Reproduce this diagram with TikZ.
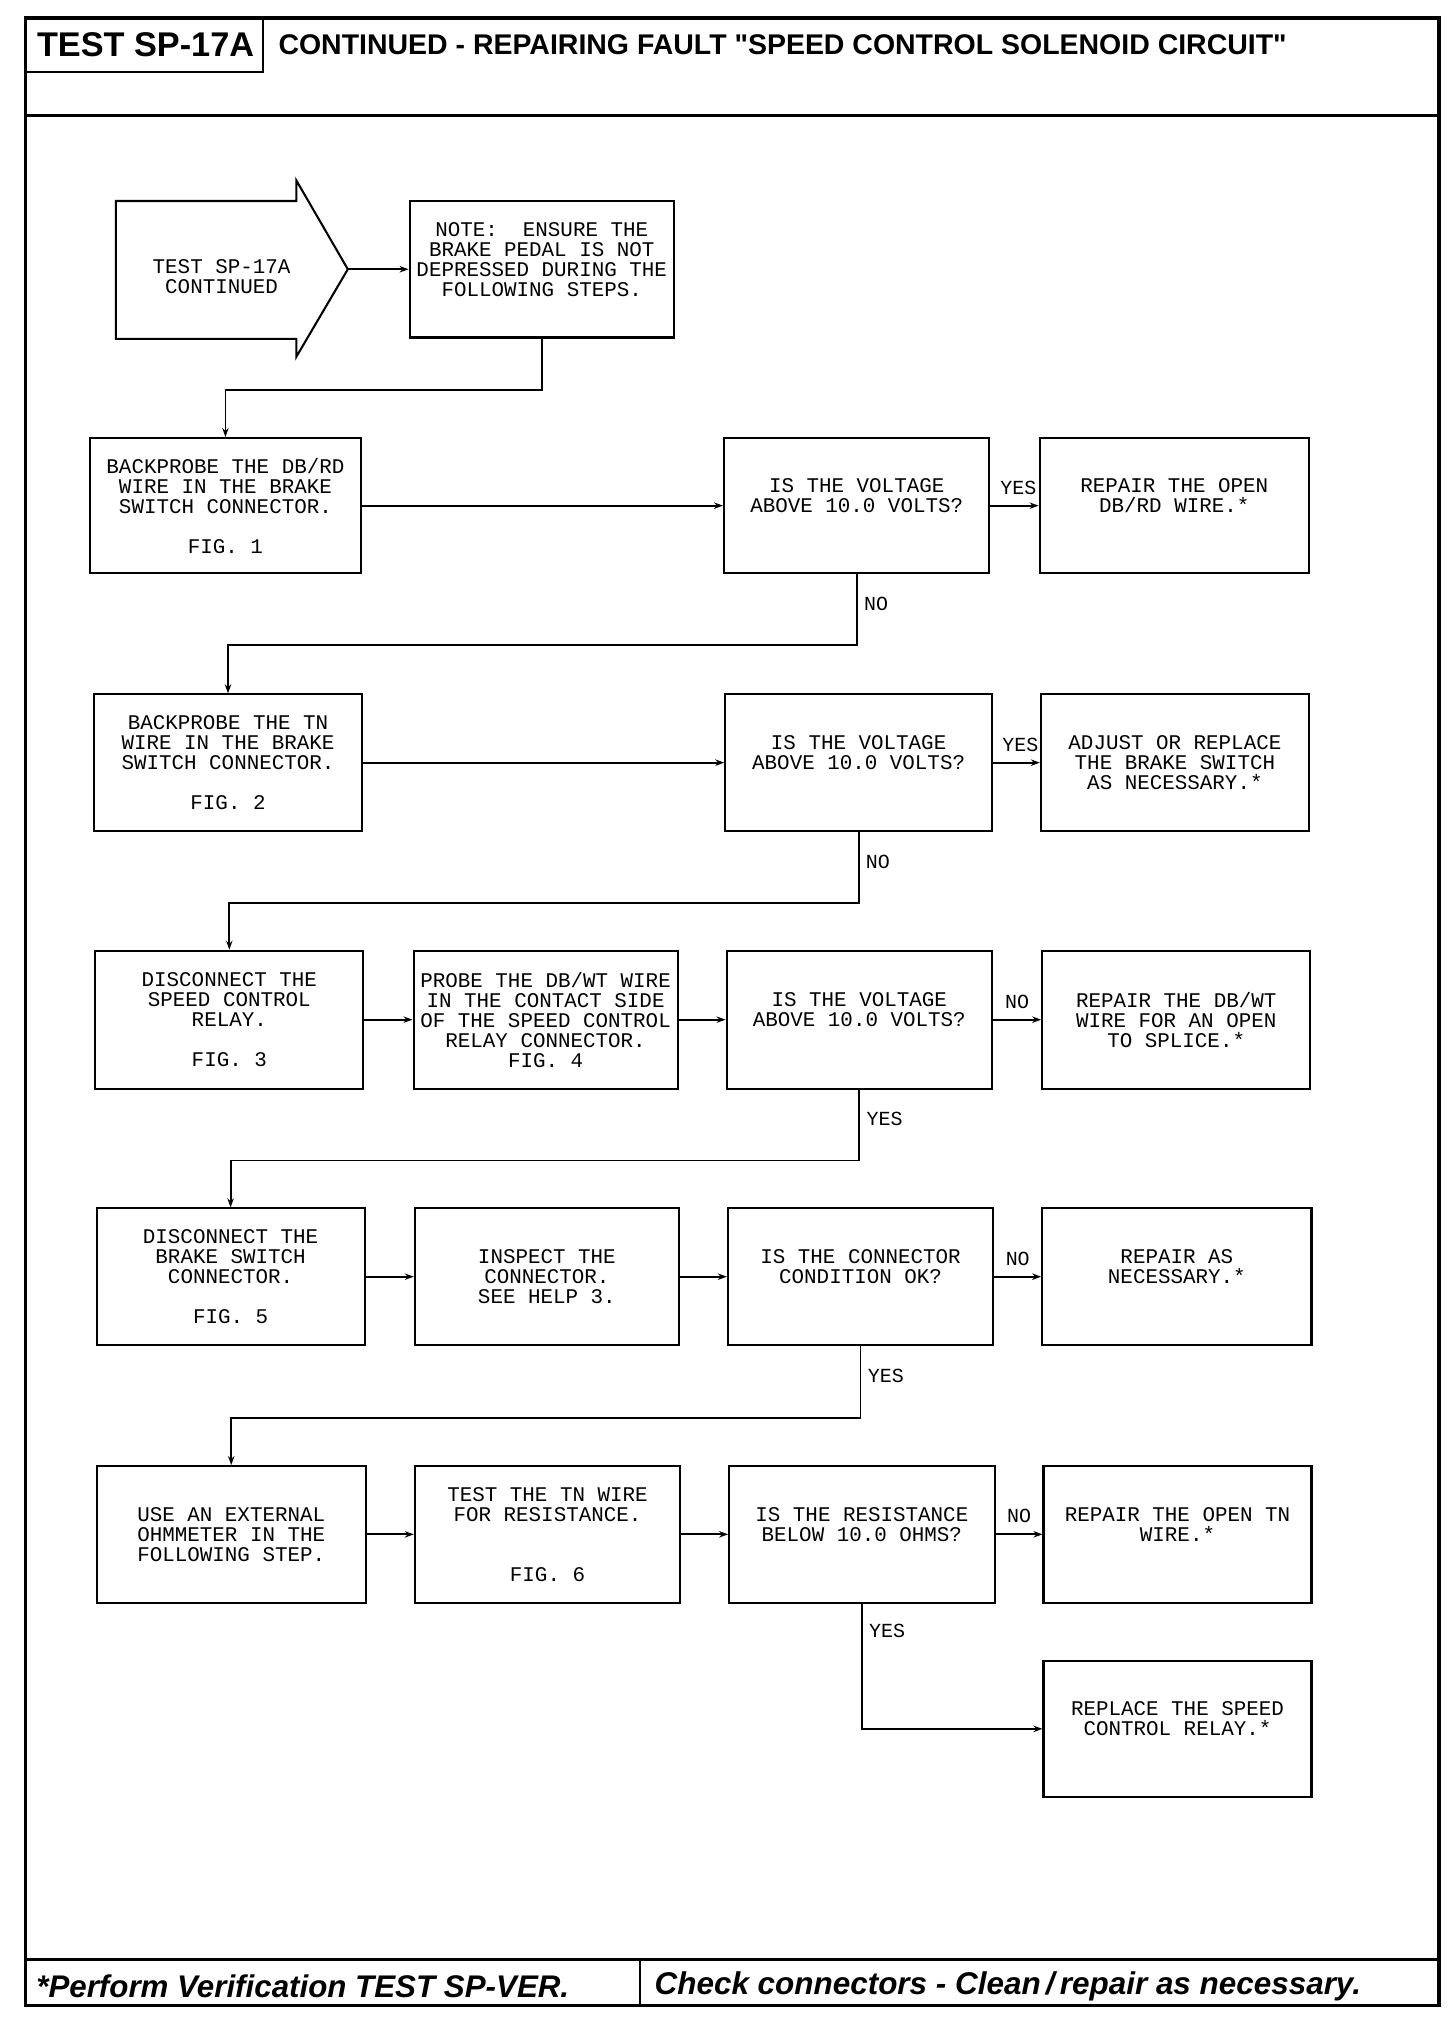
\documentclass[tikz,border=0pt]{standalone}
\usepackage{fontspec}
\setmainfont{Liberation Sans}
\setsansfont{Liberation Sans}
\setmonofont{Liberation Mono}
\newfontfamily\hfont{Liberation Sans}
\usetikzlibrary{arrows.meta,calc}
\tikzset{
  bx/.style={draw, line width=1.6pt, inner sep=0pt, align=center,
    font=\ttfamily\fontsize{16.2}{15.5}\selectfont},
  arr/.style={line width=1.4pt, -{Stealth[length=7pt,width=5pt]}},
  ln/.style={line width=1.4pt},
  lbl/.style={font=\ttfamily\fontsize{15.5}{15}\selectfont, inner sep=2pt},
  frame/.style={line width=2.4pt},
}
\newcommand{\mybox}[6]{\node[bx, minimum width={(#4-#2)*1pt}, minimum height={(#5-#3)*1pt}]
  (#1) at ({(#2+#4)/2},{(#3+#5)/2}) {#6};}
\begin{document}
\begin{tikzpicture}[x=1pt,y=-1pt]
\useasboundingbox (0,0) rectangle (1130,1568);
% frame
\draw[frame] (20,14) rectangle (1117,1557);
\draw[frame] (20,90) -- (1117,90);
\draw[frame] (20,1521) -- (1117,1521);
\draw[line width=1.6pt] (204,14) -- (204,56) -- (20,56);
\draw[line width=1.6pt] (497,1521) -- (497,1557);
\node[font=\sffamily\bfseries\fontsize{26.6}{26.6}\selectfont, inner sep=0pt] (hdr) at (113,35) {TEST SP-17A};
\node[font=\hfont\bfseries\fontsize{22.1}{22.1}\selectfont, anchor=west, inner sep=0pt] (title) at (216,35) {CONTINUED - REPAIRING FAULT "SPEED CONTROL SOLENOID CIRCUIT"};
\node[font=\sffamily\bfseries\itshape\fontsize{24.3}{24.3}\selectfont, anchor=west, inner sep=0pt] (foot1) at (28,1542) {*Perform Verification TEST SP-VER.};
\node[font=\sffamily\bfseries\itshape\fontsize{24.4}{24.4}\selectfont, anchor=west, inner sep=0pt] (foot2) at (508,1542) {Check connectors - Clean\,/\,repair as necessary.};

% start arrow shape
\draw[line width=1.6pt] (90,156) -- (230,156) -- (230,140) -- (270,209) -- (230,277) -- (230,263) -- (90,263) -- cycle;
\node[align=center, inner sep=0pt, font=\ttfamily\fontsize{16.2}{15.5}\selectfont] (start) at (172,215) {TEST SP-17A\\CONTINUED};
\coordinate (tip) at (270,209);

\mybox{note}{318}{156}{523}{262}{NOTE:~ ENSURE THE\\BRAKE PEDAL IS NOT\\DEPRESSED DURING THE\\FOLLOWING STEPS.\\\mbox{}}

% row 1
\mybox{a1}{70}{340}{280}{445}{BACKPROBE THE DB/RD\\WIRE IN THE BRAKE\\SWITCH CONNECTOR.\\\mbox{}\\FIG. 1}
\mybox{q1}{562}{340}{768}{445}{IS THE VOLTAGE\\ABOVE 10.0 VOLTS?\\\mbox{}}
\mybox{r1}{807}{340}{1016}{445}{REPAIR THE OPEN\\DB/RD WIRE.*\\\mbox{}}
% row 2
\mybox{a2}{73}{539}{281}{645}{BACKPROBE THE TN\\WIRE IN THE BRAKE\\SWITCH CONNECTOR.\\\mbox{}\\FIG. 2}
\mybox{q2}{563}{539}{770}{645}{IS THE VOLTAGE\\ABOVE 10.0 VOLTS?\\\mbox{}}
\mybox{r2}{808}{539}{1016}{645}{ADJUST OR REPLACE\\THE BRAKE SWITCH\\AS NECESSARY.*}
% row 3
\mybox{a3}{74}{738}{282}{845}{DISCONNECT THE\\SPEED CONTROL\\RELAY.\\\mbox{}\\FIG. 3}
\mybox{b3}{321}{738}{526}{845}{PROBE THE DB/WT WIRE\\IN THE CONTACT SIDE\\OF THE SPEED CONTROL\\RELAY CONNECTOR.\\FIG. 4}
\mybox{q3}{564}{738}{770}{845}{IS THE VOLTAGE\\ABOVE 10.0 VOLTS?\\\mbox{}}
\mybox{r3}{809}{738}{1017}{845}{REPAIR THE DB/WT\\WIRE FOR AN OPEN\\TO SPLICE.*}
% row 4
\mybox{a4}{75}{938}{283}{1044}{DISCONNECT THE\\BRAKE SWITCH\\CONNECTOR.\\\mbox{}\\FIG. 5}
\mybox{b4}{322}{938}{527}{1044}{INSPECT THE\\CONNECTOR.\\SEE HELP 3.}
\mybox{q4}{565}{938}{771}{1044}{IS THE CONNECTOR\\CONDITION OK?\\\mbox{}}
\mybox{r4}{809}{938}{1018}{1044}{REPAIR AS\\NECESSARY.*\\\mbox{}}
% row 5
\mybox{a5}{75}{1138}{284}{1244}{USE AN EXTERNAL\\OHMMETER IN THE\\FOLLOWING STEP.}
\mybox{b5}{322}{1138}{528}{1244}{TEST THE TN WIRE\\FOR RESISTANCE.\\\mbox{}\\\mbox{}\\FIG. 6}
\mybox{q5}{566}{1138}{772}{1244}{IS THE RESISTANCE\\BELOW 10.0 OHMS?\\\mbox{}}
\mybox{r5}{810}{1138}{1018}{1244}{REPAIR THE OPEN TN\\WIRE.*\\\mbox{}}
\mybox{r6}{810}{1289}{1018}{1395}{REPLACE THE SPEED\\CONTROL RELAY.*\\\mbox{}}

% connectors
\draw[arr] (tip) -- (note.west |- tip);
\draw[arr] (note.south) -- ++(0,40) -| (a1.north);
\draw[arr] (a1.east) -- (q1.west);
\draw[arr] (q1.east) -- node[lbl, above=6pt, xshift=3pt]{YES} (r1.west);
\draw[arr] (q1.south) -- node[lbl, pos=0.42, right=3pt]{NO} ++(0,55) -| (a2.north);
\draw[arr] (a2.east) -- (q2.west);
\draw[arr] (q2.east) -- node[lbl, above=6pt, xshift=3pt]{YES} (r2.west);
\draw[arr] (q2.south) -- node[lbl, pos=0.42, right=3pt]{NO} ++(0,55) -| (a3.north);
\draw[arr] (a3.east) -- (b3.west);
\draw[arr] (b3.east) -- (q3.west);
\draw[arr] (q3.east) -- node[lbl, above=6pt]{NO} (r3.west);
\draw[arr] (q3.south) -- node[lbl, pos=0.42, right=3pt]{YES} ++(0,55) -| (a4.north);
\draw[arr] (a4.east) -- (b4.west);
\draw[arr] (b4.east) -- (q4.west);
\draw[arr] (q4.east) -- node[lbl, above=6pt]{NO} (r4.west);
\draw[arr] (q4.south) -- node[lbl, pos=0.42, right=3pt]{YES} ++(0,56) -| (a5.north);
\draw[arr] (a5.east) -- (b5.west);
\draw[arr] (b5.east) -- (q5.west);
\draw[arr] (q5.east) -- node[lbl, above=6pt]{NO} (r5.west);
\draw[arr] (q5.south) -- node[lbl, pos=0.22, right=3pt]{YES} (q5.south |- r6.west) -- (r6.west);
\end{tikzpicture}
\end{document}
